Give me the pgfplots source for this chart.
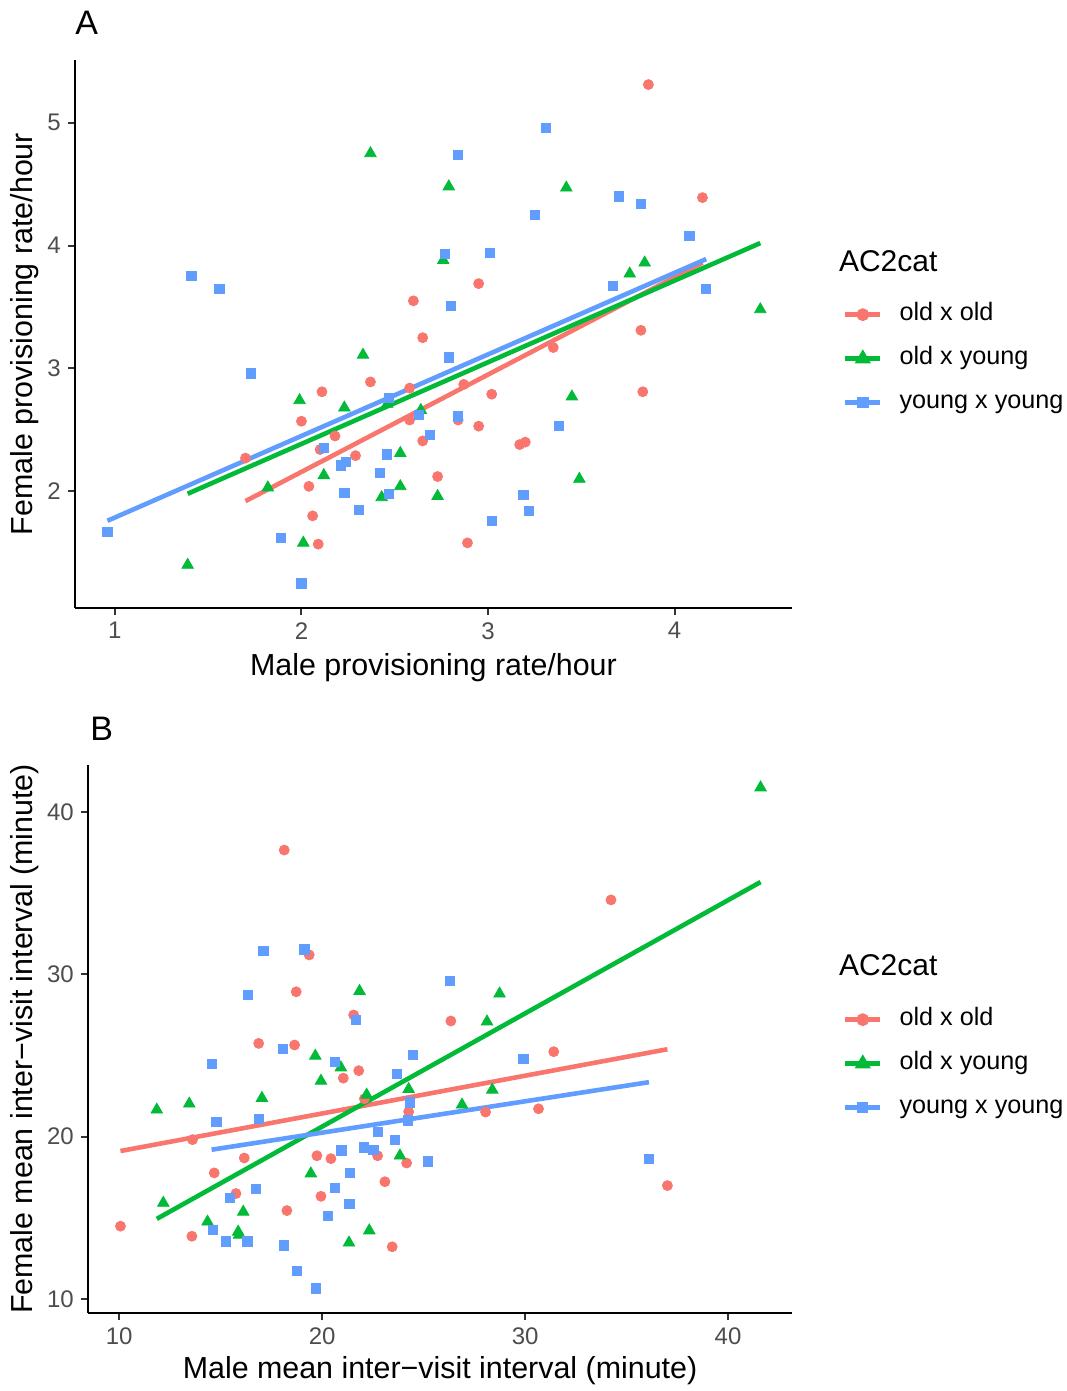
\documentclass[border=0pt]{standalone}
\usepackage{fontspec}
\setmainfont{Liberation Sans}
\usepackage{pgfplots}
\pgfplotsset{compat=1.18}

\definecolor{cOO}{HTML}{F8766D}
\definecolor{cOY}{HTML}{00BA38}
\definecolor{cYY}{HTML}{619CFF}
\definecolor{tickgray}{HTML}{4D4D4D}

\pgfplotsset{
  ggpanel/.style={
    scale only axis,
    axis lines=left,
    axis line style={-, line width=1pt, black},
    tick align=outside,
    major tick length=3.6pt,
    tick style={line width=1pt, black!80},
    tick label style={font=\fontsize{12}{14}\selectfont, text=tickgray},
    /pgf/number format/assume math mode=true,
    label style={font=\fontsize{15.2}{18}\selectfont},
    legend cell align=left,
    legend style={draw=none, fill=none, inner sep=0pt, outer sep=0pt,
      font=\fontsize{12.6}{15}\selectfont,
      row sep=10pt, column sep=8.5pt,
      nodes={inner sep=0pt, text height=9pt, text depth=3pt}},
  },
  ptOO/.style={only marks, mark=*, mark size=2.5pt, color=cOO, forget plot},
  ptOY/.style={only marks, mark=triangle*, mark size=3.3pt, color=cOY, forget plot},
  ptYY/.style={only marks, mark=square*, mark size=2.3pt, color=cYY, forget plot},
  fit/.style={no marks, line width=2.3pt, color=#1, forget plot},
  keyOO/.style={cOO, line width=2.3pt, mark=*, mark size=2pt},
  keyOY/.style={cOY, line width=2.3pt, mark=triangle*, mark size=2.4pt},
  keyYY/.style={cYY, line width=2.3pt, mark=square*, mark size=1.7pt},
}

\begin{document}
\begin{tikzpicture}
\useasboundingbox (0,0) rectangle (533pt,-695.5pt);

% ---------------- Panel A: provisioning rates ----------------
\begin{axis}[ggpanel,
  at={(37.5pt,-304pt)}, anchor=south west,
  width=358.5pt, height=274pt,
  xmin=0.786, xmax=4.63, ymin=1.05, ymax=5.51,
  xtick={1,2,3,4}, ytick={2,3,4,5},
  xlabel={Male provisioning rate/hour},
  ylabel={Female provisioning rate/hour},
  xlabel style={at={(axis description cs:0.5,-0.108)}, anchor=center},
  ylabel style={at={(axis description cs:-0.0697,0.5)}, anchor=center},
  legend style={at={(1.0711,0.455)}, anchor=west},
  legend image code/.code={\draw[mark repeat=2,mark phase=2,#1] plot coordinates {(0pt,0pt) (8.75pt,0pt) (17.5pt,0pt)};},
]
\addplot[ptOO] coordinates {
 (2.60,3.55) (2.65,3.25) (3.86,5.31) (4.15,4.39) (2.95,3.69) (3.82,3.31)
 (2.37,2.89) (2.11,2.81) (2.58,2.84) (2.58,2.58) (2.65,2.41) (2.00,2.57)
 (2.18,2.45) (1.70,2.27) (2.10,2.34) (2.29,2.29) (2.04,2.04) (2.06,1.80)
 (2.09,1.57) (3.35,3.17) (2.87,2.87) (3.02,2.79) (3.83,2.81) (2.84,2.58)
 (2.95,2.53) (3.17,2.38) (3.20,2.40) (2.73,2.12) (2.89,1.58)
};
\addplot[ptOY] coordinates {
 (2.37,4.75) (2.79,4.48) (3.42,4.47) (2.76,3.88) (3.84,3.86) (3.76,3.77)
 (4.46,3.48) (2.33,3.11) (1.99,2.74) (2.23,2.68) (2.46,2.71) (2.64,2.66)
 (2.53,2.31) (2.12,2.13) (1.82,2.03) (2.53,2.04) (2.43,1.95) (2.73,1.96)
 (2.01,1.58) (1.39,1.40) (3.45,2.77) (3.49,2.10)
};
\addplot[ptYY] coordinates {
 (1.41,3.75) (1.56,3.65) (3.31,4.96) (2.84,4.74) (3.70,4.40) (3.82,4.34)
 (3.25,4.25) (4.08,4.08) (2.77,3.93) (3.01,3.94) (2.80,3.51) (3.67,3.67)
 (4.17,3.65) (1.73,2.96) (2.47,2.76) (2.63,2.62) (2.69,2.46) (2.12,2.35)
 (2.24,2.24) (2.21,2.21) (2.46,2.30) (2.42,2.15) (2.23,1.99) (2.47,1.98)
 (2.31,1.85) (0.96,1.67) (1.89,1.62) (2.00,1.25) (2.79,3.09) (2.84,2.61)
 (3.38,2.53) (3.19,1.97) (3.22,1.84) (3.02,1.76)
};
% fitted lines (lm per group)
\addplot[fit=cOO] coordinates {(1.70,1.92) (4.15,3.86)};
\addplot[fit=cOY] coordinates {(1.39,1.98) (4.46,4.02)};
\addplot[fit=cYY] coordinates {(0.96,1.76) (4.17,3.89)};
\addlegendimage{keyOO}\addlegendentry{old x old}
\addlegendimage{keyOY}\addlegendentry{old x young}
\addlegendimage{keyYY}\addlegendentry{young x young}
\end{axis}
\node[anchor=base west, inner sep=0pt, font=\fontsize{15}{18}\selectfont] at (419.3pt,-135.9pt) {AC2cat};
\node[anchor=base west, inner sep=0pt, font=\fontsize{17}{20}\selectfont] at (37.5pt,-17.5pt) {A};

% ---------------- Panel B: inter-visit intervals ----------------
\begin{axis}[ggpanel,
  at={(44pt,-656.5pt)}, anchor=south west,
  width=352pt, height=274pt,
  xmin=8.46, xmax=43.15, ymin=9.14, ymax=42.9,
  xtick={10,20,30,40}, ytick={10,20,30,40},
  xlabel={Male mean inter−visit interval (minute)},
  ylabel={Female mean inter−visit interval (minute)},
  xlabel style={at={(axis description cs:0.5,-0.106)}, anchor=center},
  ylabel style={at={(axis description cs:-0.0895,0.5)}, anchor=center},
  legend style={at={(1.0724,0.455)}, anchor=west},
  legend image code/.code={\draw[mark repeat=2,mark phase=2,#1] plot coordinates {(0pt,0pt) (8.75pt,0pt) (17.5pt,0pt)};},
]
\addplot[ptOO] coordinates {
 (18.13,37.66) (19.36,31.20) (18.72,28.93) (21.55,27.50) (16.87,25.75)
 (18.64,25.65) (34.23,34.59) (26.34,27.13) (21.80,24.07) (21.04,23.61)
 (24.26,21.54) (22.08,22.34) (13.61,19.82) (16.16,18.69) (14.68,17.77)
 (22.73,18.83) (19.74,18.83) (20.43,18.65) (24.16,18.38) (23.09,17.23)
 (15.75,16.50) (19.94,16.33) (18.26,15.45) (10.06,14.49) (13.58,13.87)
 (23.45,13.22) (31.41,25.24) (28.05,21.52) (30.66,21.72) (37.01,16.99)
};
\addplot[ptOY] coordinates {
 (21.84,28.97) (41.60,41.51) (28.74,28.81) (28.12,27.09) (19.66,24.98)
 (20.92,24.26) (19.94,23.44) (24.26,22.93) (22.19,22.58) (11.85,21.66)
 (13.45,22.03) (17.03,22.38) (23.83,18.83) (19.44,17.73) (12.17,15.92)
 (16.11,15.37) (14.35,14.76) (15.86,14.14) (15.90,13.95) (22.32,14.22)
 (21.32,13.47) (28.38,22.89) (26.89,21.97)
};
\addplot[ptYY] coordinates {
 (17.10,31.47) (19.12,31.54) (16.33,28.73) (21.65,27.21) (18.08,25.41)
 (26.29,29.61) (14.55,24.51) (20.64,24.61) (24.46,25.02) (23.68,23.87)
 (24.31,22.11) (24.24,21.00) (14.79,20.92) (16.88,21.09) (22.73,20.29)
 (23.58,19.80) (20.95,19.16) (22.04,19.34) (22.52,19.20) (25.20,18.48)
 (21.36,17.77) (16.75,16.79) (20.63,16.85) (15.45,16.21) (21.34,15.88)
 (20.30,15.10) (14.61,14.24) (15.27,13.55) (16.31,13.55) (18.13,13.30)
 (18.75,11.75) (19.69,10.66) (29.91,24.79) (36.10,18.63)
};
% fitted lines (lm per group)
\addplot[fit=cOO] coordinates {(10.06,19.12) (37.01,25.39)};
\addplot[fit=cOY] coordinates {(11.85,14.94) (41.60,35.69)};
\addplot[fit=cYY] coordinates {(14.55,19.20) (36.10,23.36)};
\addlegendimage{keyOO}\addlegendentry{old x old}
\addlegendimage{keyOY}\addlegendentry{old x young}
\addlegendimage{keyYY}\addlegendentry{young x young}
\end{axis}
\node[anchor=base west, inner sep=0pt, font=\fontsize{15}{18}\selectfont] at (419.3pt,-487.9pt) {AC2cat};
\node[anchor=base west, inner sep=0pt, font=\fontsize{17}{20}\selectfont] at (45pt,-370pt) {B};
\end{tikzpicture}
\end{document}
